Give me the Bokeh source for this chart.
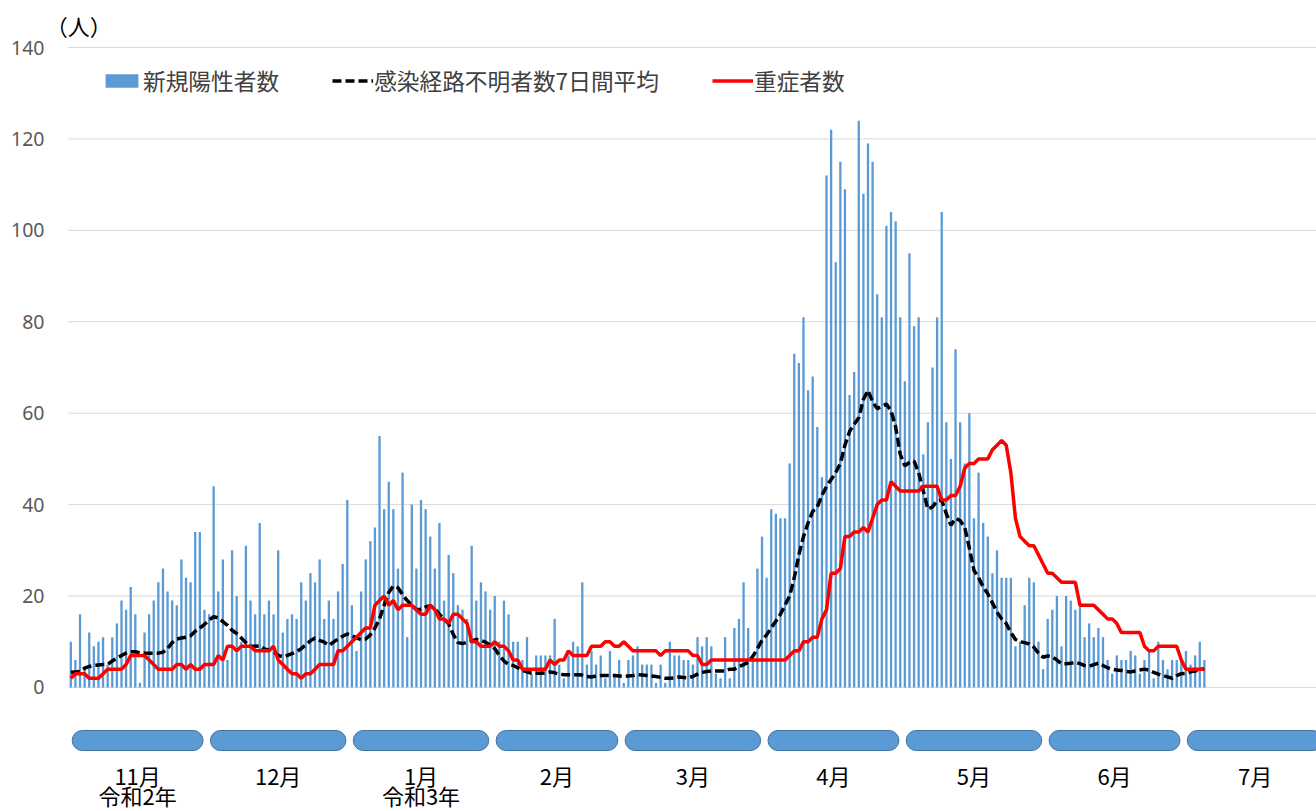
from bokeh.plotting import figure
from bokeh.models import Range1d, FixedTicker, Legend, LegendItem
from bokeh.core.properties import value
from bokeh.embed import file_html
from bokeh.resources import INLINE
import numpy as np

# ---- data (daily, 2020-11-01 .. 2021-07-04) ----
new_nov = [10, 6, 16, 4, 12, 9, 10, 11, 5, 11, 14, 19, 17, 22, 16, 1, 12, 16, 19, 23, 26, 21, 19, 18, 28, 24, 23, 34, 34, 17]
new_dec = [16, 44, 21, 28, 6, 30, 20, 10, 31, 19, 16, 36, 16, 19, 16, 30, 12, 15, 16, 15, 23, 19, 25, 23, 28, 15, 19, 15, 21, 27, 41]
new_jan = [18, 8, 21, 28, 32, 35, 55, 39, 45, 39, 26, 47, 11, 40, 26, 41, 39, 33, 26, 36, 19, 29, 25, 18, 17, 15, 31, 19, 23, 21, 17]
new_feb = [20, 10, 19, 16, 10, 10, 6, 11, 3, 7, 7, 7, 7, 15, 5, 2, 7, 10, 9, 23, 5, 8, 5, 7, 2, 8, 3, 6]
new_mar = [1, 6, 7, 9, 5, 5, 5, 1, 5, 1, 10, 7, 7, 6, 6, 5, 11, 9, 11, 9, 3, 2, 11, 2, 13, 15, 23, 13, 7, 26, 33]
new_apr = [24, 39, 38, 37, 37, 49, 73, 71, 81, 65, 68, 57, 46, 112, 122, 93, 115, 109, 64, 69, 124, 108, 119, 115, 86, 81, 101, 104, 102, 81]
new_may = [67, 95, 79, 81, 51, 58, 70, 81, 104, 58, 50, 74, 58, 49, 60, 37, 47, 36, 33, 25, 30, 24, 24, 24, 9, 10, 18, 24, 23, 10, 4]
new_jun = [15, 17, 20, 9, 20, 19, 17, 18, 11, 14, 11, 13, 11, 6, 3, 7, 6, 6, 8, 7, 3, 6, 8, 2, 10, 6, 4, 6, 6, 6]
new_jul = [8, 5, 7, 10, 6]

sev_nov = [2, 3, 3, 3, 2, 2, 2, 3, 4, 4, 4, 4, 5, 7, 7, 7, 7, 6, 5, 4, 4, 4, 4, 5, 5, 4, 5, 4, 4, 5]
sev_dec = [5, 5, 7, 6, 9, 9, 8, 9, 9, 9, 8, 8, 8, 8, 9, 6, 5, 4, 3, 3, 2, 3, 3, 4, 5, 5, 5, 5, 8, 8, 9]
sev_jan = [10, 11, 12, 13, 13, 18, 19, 20, 18, 19, 17, 18, 18, 18, 17, 16, 16, 18, 17, 15, 15, 14, 16, 16, 15, 14, 10, 10, 9, 9, 9]
sev_feb = [10, 9, 9, 8, 6, 6, 4, 4, 4, 4, 4, 4, 6, 5, 6, 6, 8, 7, 7, 7, 7, 9, 9, 9, 10, 10, 9, 9]
sev_mar = [10, 9, 8, 8, 8, 8, 8, 8, 7, 8, 8, 8, 8, 8, 8, 7, 7, 5, 5, 6, 6, 6, 6, 6, 6, 6, 6, 6, 6, 6, 6]
sev_apr = [6, 6, 6, 6, 6, 7, 8, 8, 10, 10, 11, 11, 15, 17, 25, 25, 26, 33, 33, 34, 34, 35, 34, 37, 40, 41, 41, 45, 44, 43]
sev_may = [43, 43, 43, 43, 44, 44, 44, 44, 41, 41, 42, 42, 44, 48, 49, 49, 50, 50, 50, 52, 53, 54, 53, 47, 37, 33, 32, 31, 31, 29, 27]
sev_jun = [25, 25, 24, 23, 23, 23, 23, 18, 18, 18, 18, 17, 16, 15, 15, 14, 12, 12, 12, 12, 12, 9, 8, 8, 9, 9, 9, 9, 9, 6]
sev_jul = [4, 4, 4, 4, 4]

unk_nov = [3.3, 3.4, 3.5, 4.2, 4.6, 4.8, 4.9, 5.0, 5.0, 5.8, 6.4, 7.0, 7.5, 7.8, 7.8, 7.6, 7.5, 7.5, 7.5, 7.5,
           7.7, 8.5, 9.8, 10.6, 10.8, 11.0, 11.3, 12.3, 13.0, 13.8]
unk_dec = [14.7, 15.5, 15.2, 14.4, 13.6, 12.5, 11.8, 10.8, 9.8, 9.0, 9.0, 9.1, 8.4, 8.2, 7.8, 7.0, 6.7, 7.0, 7.4, 7.8,
           8.5, 9.3, 10.2, 10.8, 10.3, 9.9, 9.2, 9.9, 10.6, 11.2, 11.7]
unk_jan = [11.3, 10.9, 10.4, 10.6, 11.5, 13.0, 15.0, 18.0, 20.8, 22.2, 21.8, 20.3, 19.0, 18.0, 17.0, 17.1, 17.6, 17.9,
           17.2, 16.0, 15.0, 13.9, 11.6, 9.8, 9.6, 9.9, 10.2, 10.5, 10.3, 9.9, 9.3]
unk_feb = [8.5, 7.0, 5.8, 5.0, 4.8, 4.3, 3.7, 3.4, 3.1, 3.1, 3.1, 3.2, 3.4, 3.2, 2.9, 2.8, 2.8, 2.8, 2.8, 2.7,
           2.4, 2.3, 2.5, 2.6, 2.6, 2.6, 2.6, 2.5]
unk_mar = [2.4, 2.5, 2.6, 2.8, 2.7, 2.6, 2.5, 2.4, 2.2, 2.0, 2.0, 2.1, 2.3, 2.2, 2.1, 2.4, 2.9, 3.3, 3.5, 3.6,
           3.6, 3.6, 3.6, 4.0, 4.0, 4.5, 5.0, 5.5, 6.8, 8.5, 10.3]
unk_apr = [11.5, 13.0, 14.5, 16.0, 18.0, 20.0, 24.0, 29.0, 33.0, 36.0, 38.5, 39.5, 42.0, 44.0, 45.5, 47.0, 49.0, 53.0,
           56.0, 57.6, 59.0, 63.0, 65.0, 62.5, 61.0, 61.5, 62.0, 60.5, 57.0, 51.0]
unk_may = [48.5, 49.2, 49.5, 47.0, 43.0, 39.0, 39.5, 40.8, 41.0, 38.0, 35.5, 37.0, 36.5, 35.0, 30.5, 25.6, 24.0, 22.0,
           20.5, 18.5, 16.5, 15.0, 14.0, 12.0, 10.5, 10.0, 9.8, 9.5, 8.8, 7.5, 6.6]
unk_jun = [6.9, 6.7, 6.0, 5.2, 5.2, 5.3, 5.5, 5.2, 4.8, 4.6, 5.0, 5.3, 4.8, 4.3, 4.0, 3.8, 3.7, 3.5, 3.4, 3.6,
           3.8, 4.0, 3.8, 3.3, 2.9, 2.6, 2.3, 2.0, 2.6, 3.0]
unk_jul = [3.1, 3.4, 3.6, 3.9, 4.1]

month_labels = ["11月", "12月", "1月", "2月", "3月", "4月", "5月", "6月", "7月"]
month_lengths = [30, 31, 31, 28, 31, 30, 31, 30, 31]
era_labels = ["令和2年", "", "令和3年", "", "", "", "", "", ""]
y_ticks = [0, 20, 40, 60, 80, 100, 120, 140]
unit_label = "（人）"

series_names = ["新規陽性者数", "感染経路不明者数7日間平均", "重症者数"]

new_cases = new_nov + new_dec + new_jan + new_feb + new_mar + new_apr + new_may + new_jun + new_jul
severe = sev_nov + sev_dec + sev_jan + sev_feb + sev_mar + sev_apr + sev_may + sev_jun + sev_jul
unknown_avg = unk_nov + unk_dec + unk_jan + unk_feb + unk_mar + unk_apr + unk_may + unk_jun + unk_jul
days = list(range(len(new_cases)))

# ---- geometry / styling ----
BLUE = "#5B9BD5"
FONT = "Noto Sans CJK JP"
W, H = 1316, 811
LEFT = 50                       # frame starts here (px)
PX_PER_DAY = 4.608
PX_PER_UNIT = 4.571
X0 = -0.5 - (68 - LEFT) / PX_PER_DAY
X1 = X0 + (W - LEFT) / PX_PER_DAY
Y_TOP = 140 + 47 / PX_PER_UNIT
Y_BOT = Y_TOP - H / PX_PER_UNIT

p = figure(width=W, height=H, output_backend="svg", toolbar_location=None, title=None,
           x_range=Range1d(X0, X1), y_range=Range1d(Y_BOT, Y_TOP),
           min_border_left=LEFT, min_border_right=0, min_border_top=0, min_border_bottom=0)
p.outline_line_color = None
p.background_fill_color = "white"
p.xaxis.visible = False
p.xgrid.visible = False
p.ygrid.visible = False

p.yaxis.ticker = FixedTicker(ticks=y_ticks)
p.yaxis.axis_line_color = None
p.yaxis.major_tick_line_color = None
p.yaxis.minor_tick_line_color = None
p.yaxis.major_tick_out = 0
p.yaxis.major_tick_in = 0
p.yaxis.major_label_standoff = 6
p.yaxis.major_label_text_font = "Noto Sans"
p.yaxis.major_label_text_font_size = "19.5px"
p.yaxis.major_label_text_color = "#595959"

# horizontal gridlines spanning the category axis (from the first category edge)
n_cat = sum(month_lengths)
p.segment(x0=[-0.5] * len(y_ticks), x1=[n_cat - 0.5] * len(y_ticks), y0=y_ticks, y1=y_ticks,
          line_color="#D9D9D9", line_width=1)

bars = p.vbar(x=days, top=new_cases, width=0.5, fill_color=BLUE, line_color=None)
dash = p.line(days, unknown_avg, line_color="black", line_width=3.5, line_dash="9 4")
red = p.line(days, severe, line_color="#FF0000", line_width=3.5)

# month pills and labels below the axis
starts = np.cumsum([0] + month_lengths[:-1])
ends = starts + np.array(month_lengths) - 1
centers = (starts + ends) / 2.0
inset = 0.8
p.quad(left=starts - 0.5 + inset, right=ends + 0.5 - inset, top=-9.42, bottom=-13.8,
       border_radius=10, fill_color=BLUE, line_color="#41719C", line_width=1)
p.text(x=centers, y=[-19.26] * len(centers), text=month_labels,
       text_font=value(FONT), text_font_size=value("22px"), text_color="black",
       text_align="center", text_baseline="middle")
p.text(x=centers, y=[Y_BOT + 0.15] * len(centers), text=era_labels,
       text_font=value(FONT), text_font_size=value("22px"), text_color="black",
       text_align="center", text_baseline="bottom")

# unit label above the value axis
p.text(x=[1.7], y=[145.0], text=[unit_label], text_font=value(FONT), text_font_size=value("22px"),
       text_color="black", text_align="center", text_baseline="middle")

legend = Legend(items=[LegendItem(label=series_names[0], renderers=[bars]),
                       LegendItem(label=series_names[1], renderers=[dash]),
                       LegendItem(label=series_names[2], renderers=[red])],
                orientation="horizontal", location=(51, 714),
                label_text_font=FONT, label_text_font_size="22.7px", label_text_color="#404040",
                glyph_width=41, glyph_height=17, label_standoff=1, spacing=53,
                padding=0, margin=0, border_line_color=None, background_fill_alpha=0)
p.add_layout(legend)

open("out.html", "w").write(file_html(p, INLINE))
